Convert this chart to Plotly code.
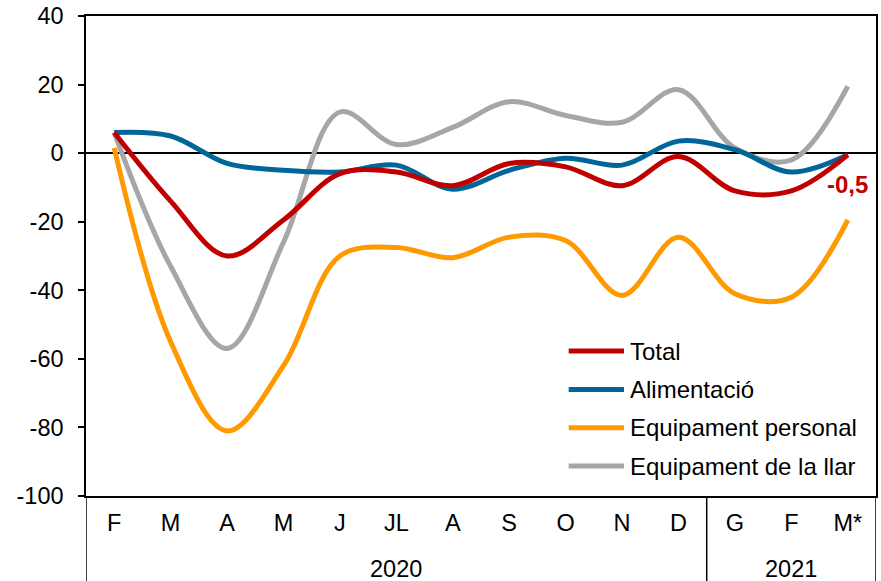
import plotly.graph_objects as go

months = ["F", "M", "A", "M", "J", "JL", "A", "S", "O", "N", "D", "G", "F", "M*"]
years = ["2020"] * 11 + ["2021"] * 3

total = [6, -14, -30, -19.5, -6, -5.5, -9.5, -3, -4, -9.5, -1, -11, -11, -0.5]
alimentacio = [6, 5, -3, -5, -5.5, -3.5, -10.5, -5, -1.5, -3.5, 3.5, 1, -5.5, -0.5]
personal = [1.5, -55, -81, -62, -30, -27.5, -30.5, -24.5, -25.5, -41.5, -24.5, -41, -42, -19.5]
llar = [6, -33, -57, -26, 12, 2.5, 7.5, 15, 11, 9, 18.5, 1.5, -2, 19.5]

series_names = ["Total", "Alimentació", "Equipament personal", "Equipament de la llar"]
series_values = [total, alimentacio, personal, llar]
colors = ["#C00000", "#006699", "#FF9900", "#A6A6A6"]

yticks = [-100, -80, -60, -40, -20, 0, 20, 40]
yticktext = [str(v) for v in yticks]

FONT = "Liberation Sans, Arial, sans-serif"
TICK_SIZE = 23.5
x = list(range(len(months)))

fig = go.Figure()
for name, vals, col in reversed(list(zip(series_names, series_values, colors))):
    fig.add_trace(go.Scatter(
        x=x, y=vals, name=name, mode="lines",
        line=dict(color=col, width=5, shape="spline", smoothing=1),
        showlegend=False, hoverinfo="skip"))

fig.update_layout(
    width=881, height=581,
    margin=dict(l=86, r=5, t=16, b=85, autoexpand=False),
    paper_bgcolor="white", plot_bgcolor="white",
    font=dict(family=FONT, size=TICK_SIZE, color="black"),
    showlegend=False,
)
fig.update_xaxes(
    range=[-0.5, len(months) - 0.5], automargin=False,
    tickvals=x, ticktext=months, ticks="",
    showgrid=False, zeroline=False,
    showline=True, linecolor="black", linewidth=1.5, mirror=True,
    tickfont=dict(size=TICK_SIZE, family=FONT, color="black"),
    ticklabelstandoff=5, ticklabeloverflow="allow",
)
fig.update_yaxes(
    range=[-100, 40], automargin=False,
    tickvals=yticks, ticktext=yticktext,
    ticks="outside", ticklen=6, tickwidth=1.5, tickcolor="black",
    showgrid=False, zeroline=True, zerolinecolor="black", zerolinewidth=2,
    showline=True, linecolor="black", linewidth=1.5, mirror=True,
    tickfont=dict(size=TICK_SIZE, family=FONT, color="black"),
    ticklabelstandoff=10, ticklabeloverflow="allow",
)

shapes = []
ext = -85 / 480
bounds = [-0.5]
for i in range(1, len(years)):
    if years[i] != years[i - 1]:
        bounds.append(i - 0.5)
bounds.append(len(years) - 0.5)
for b in bounds:
    shapes.append(dict(type="line", xref="x", yref="paper", x0=b, x1=b, y0=0, y1=ext,
                       line=dict(color="black", width=1.5)))

annotations = []
for yr in dict.fromkeys(years):
    idx = [i for i, v in enumerate(years) if v == yr]
    annotations.append(dict(x=sum(idx) / len(idx), y=-0.152, xref="x", yref="paper",
                            text=yr, showarrow=False, xanchor="center", yanchor="middle",
                            font=dict(size=TICK_SIZE, family=FONT, color="black")))

last = total[-1]
annotations.append(dict(x=x[-1], y=last, xref="x", yref="y",
                        text=("%.1f" % last).replace(".", ","), showarrow=False,
                        xanchor="center", yanchor="middle", yshift=-30,
                        font=dict(size=24, family=FONT, color="#C00000", weight="bold")))

leg_y = [0.302, 0.222, 0.142, 0.0625]
for name, col, ly in zip(series_names, colors, leg_y):
    shapes.append(dict(type="line", xref="paper", yref="paper", x0=0.611, x1=0.681,
                       y0=ly, y1=ly, line=dict(color=col, width=5)))
    annotations.append(dict(x=0.686, y=ly, xref="paper", yref="paper", text=name,
                            showarrow=False, xanchor="left", yanchor="middle",
                            font=dict(size=24, family=FONT, color="black")))

fig.update_layout(shapes=shapes, annotations=annotations)
# remove the default 8px page margin so the 881x581 figure fills the window exactly
fig.write_html("out.html", config={"displayModeBar": False},
               post_script="document.body.style.margin='0px';")
